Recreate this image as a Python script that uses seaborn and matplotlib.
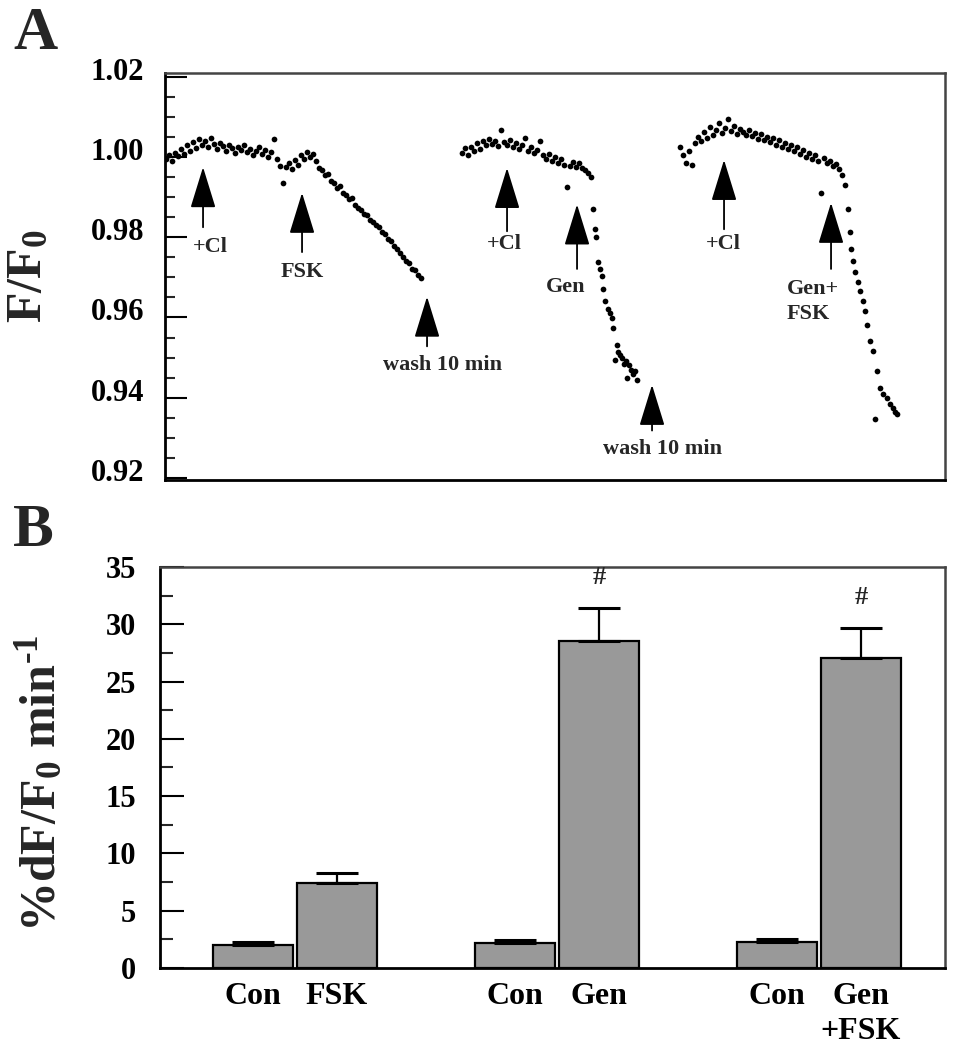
import numpy as np
import pandas as pd
import matplotlib
matplotlib.use("Agg")
import matplotlib.pyplot as plt
import matplotlib.transforms as mtransforms
from matplotlib.ticker import MultipleLocator, FormatStrFormatter
import seaborn as sns

sns.set_theme(style="white")
plt.rcParams['font.family'] = ['Liberation Serif', 'DejaVu Serif']
plt.rcParams['font.weight'] = 'bold'
plt.rcParams['axes.labelweight'] = 'bold'
plt.rcParams['mathtext.fontset'] = 'custom'
plt.rcParams['mathtext.rm'] = 'Liberation Serif:bold'
plt.rcParams['mathtext.it'] = 'Liberation Serif:bold'
plt.rcParams['mathtext.bf'] = 'Liberation Serif:bold'

# --- Panel A: F/F0 traces (time in s, sampled every 3 s on the plateaus) ---
trace1_t = np.arange(1, 257, 3)
trace1_f = [0.9995, 1.0005, 0.9990, 1.0010, 1.0002, 1.0020, 1.0008, 1.0030, 1.0015, 1.0038,
            1.0022, 1.0045, 1.0030, 1.0040, 1.0025, 1.0048, 1.0032, 1.0020, 1.0035, 1.0028,
            1.0015, 1.0030, 1.0022, 1.0010, 1.0025, 1.0018, 1.0030, 1.0012, 1.0020, 1.0005,
            1.0015, 1.0025, 1.0008, 1.0018, 1.0000, 1.0012, 1.0045, 0.9995, 0.9978, 0.9935,
            0.9975, 0.9985, 0.9970, 0.9992, 0.9980, 1.0005, 0.9995, 1.0012, 1.0000, 1.0008,
            0.9990, 0.9972, 0.9968, 0.9955, 0.9958, 0.9940, 0.9935, 0.9922, 0.9928, 0.9910,
            0.9905, 0.9895, 0.9898, 0.9880, 0.9872, 0.9868, 0.9858, 0.9855, 0.9842, 0.9838,
            0.9830, 0.9825, 0.9812, 0.9808, 0.9795, 0.9790, 0.9778, 0.9770, 0.9760, 0.9752,
            0.9740, 0.9735, 0.9722, 0.9718, 0.9705, 0.9698]

trace2_plateau_t = np.arange(297, 427, 3)
trace2_plateau_f = [1.0010, 1.0022, 1.0005, 1.0025, 1.0015, 1.0035, 1.0020, 1.0040, 1.0030, 1.0045,
                    1.0032, 1.0040, 1.0028, 1.0068, 1.0038, 1.0030, 1.0042, 1.0025, 1.0035, 1.0020,
                    1.0030, 1.0048, 1.0015, 1.0025, 1.0010, 1.0018, 1.0040, 1.0005, 0.9995, 1.0008,
                    0.9990, 1.0000, 0.9985, 0.9995, 0.9980, 0.9925, 0.9978, 0.9988, 0.9975, 0.9985,
                    0.9972, 0.9968, 0.9960, 0.9950]
trace2_drop_t = [428, 430, 431, 433, 435, 437, 438, 440, 443, 445, 447, 448, 450,
                 452, 453, 455, 457, 459, 461, 462, 464, 466, 468, 470, 472]
trace2_drop_f = [0.9870, 0.9820, 0.9800, 0.9738, 0.9720, 0.9704, 0.9672, 0.9642, 0.9622,
                 0.9610, 0.9598, 0.9573, 0.9494, 0.9531, 0.9515, 0.9506, 0.9498, 0.9485,
                 0.9491, 0.9450, 0.9481, 0.9470, 0.9460, 0.9467, 0.9444]

trace3_plateau_t = np.arange(515, 681, 3)
trace3_plateau_f = [1.0025, 1.0005, 0.9985, 1.0015, 0.9980, 1.0035, 1.0050, 1.0040, 1.0062, 1.0048,
                    1.0074, 1.0055, 1.0068, 1.0084, 1.0060, 1.0072, 1.0096, 1.0065, 1.0078, 1.0058,
                    1.0070, 1.0062, 1.0055, 1.0068, 1.0052, 1.0060, 1.0045, 1.0058, 1.0042, 1.0050,
                    1.0038, 1.0048, 1.0030, 1.0042, 1.0025, 1.0035, 1.0020, 1.0030, 1.0015, 1.0025,
                    1.0008, 1.0018, 1.0000, 1.0010, 0.9995, 1.0005, 0.9990, 0.9910, 0.9998, 0.9985,
                    0.9990, 0.9978, 0.9982, 0.9970, 0.9955, 0.9930]
trace3_drop_t = [683, 685, 686, 688, 690, 693, 695, 698, 700, 702, 705, 708, 710,
                 712, 715, 718, 722, 725, 728, 730, 732]
trace3_drop_f = [0.9870, 0.9812, 0.9770, 0.9740, 0.9714, 0.9689, 0.9667, 0.9642, 0.9617,
                 0.9580, 0.9541, 0.9516, 0.9346, 0.9467, 0.9425, 0.9410, 0.9400, 0.9385,
                 0.9375, 0.9365, 0.9358]

# arrow markers
arrow_labels = ["+Cl", "FSK", "wash 10 min", "+Cl", "Gen", "wash 10 min", "+Cl", "Gen+\nFSK"]
arrow_t = [38, 137, 262, 342, 412, 487, 559, 666]
arrow_tip = [0.9975, 0.9911, 0.9652, 0.9973, 0.9882, 0.9432, 0.9993, 0.9886]
arrow_tail = [0.9825, 0.9763, 0.9528, 0.9815, 0.9721, 0.9318, 0.9820, 0.9721]
label_t = [45, 137, 277, 339, 401, 497, 558, 648]
label_f = [0.9775, 0.9714, 0.9482, 0.9783, 0.9677, 0.9272, 0.9783, 0.9640]

# --- Panel B: rates ---
groups = ["FSK", "Gen", "Gen+FSK"]
conditions = ["Con", "Treated"]
con_mean = [2.05, 2.2, 2.3]
con_sem = [0.25, 0.25, 0.2]
trt_mean = [7.45, 28.55, 27.1]
trt_sem = [0.8, 2.9, 2.6]
bar_labels = ["Con", "FSK", "Con", "Gen", "Con", "Gen\n+FSK"]
significant = [False, False, False, True, False, True]

fig = plt.figure(figsize=(9.54, 10.5), dpi=100)
axA = fig.add_axes([0.173, 0.543, 0.8176, 0.3876])
axB = fig.add_axes([0.1677, 0.0781, 0.8229, 0.3819])

# Panel A
traces = [(trace1_t, trace1_f),
          (np.concatenate([trace2_plateau_t, trace2_drop_t]), trace2_plateau_f + trace2_drop_f),
          (np.concatenate([trace3_plateau_t, trace3_drop_t]), trace3_plateau_f + trace3_drop_f)]
for t, f in traces:
    sns.scatterplot(x=t, y=f, ax=axA, color="black", s=17, marker="o", linewidth=0)

for i in range(len(arrow_t)):
    axA.annotate("", xy=(arrow_t[i], arrow_tip[i]), xytext=(arrow_t[i], arrow_tail[i]),
                 arrowprops=dict(arrowstyle="-|>,head_length=0.65,head_width=0.2",
                                 mutation_scale=40, lw=1.3, color="black",
                                 shrinkA=0, shrinkB=0))
    axA.text(label_t[i], label_f[i], arrow_labels[i], ha="center", va="center",
             fontsize=16, multialignment="left", linespacing=1.3)

axA.set_xlim(0, 780)
axA.set_ylim(0.9195, 1.021)
axA.set_xticks([])
axA.yaxis.set_major_locator(MultipleLocator(0.02))
axA.yaxis.set_minor_locator(MultipleLocator(0.005))
axA.yaxis.set_major_formatter(FormatStrFormatter('%.2f'))
axA.tick_params(axis='y', which='major', direction='in', length=16, width=1.5,
                pad=15, labelsize=22, left=True, colors="black")
axA.tick_params(axis='y', which='minor', direction='in', length=7, width=1.5, left=True)
axA.set_ylabel("F/F$_0$", fontsize=36, fontweight="bold", va="center")
axA.yaxis.set_label_coords(-0.174, 0.50)

# Panel B
df = pd.DataFrame({
    "group": [g for g in groups for _ in conditions],
    "cond": conditions * len(groups),
    "rate": [v for pair in zip(con_mean, trt_mean) for v in pair],
})
sns.barplot(data=df, x="group", y="rate", hue="cond", palette=["#999999", "#999999"],
            width=0.64, gap=0.05, dodge=True, errorbar=None, saturation=1,
            edgecolor="black", linewidth=1.6, legend=False, ax=axB)

bars = sorted(axB.patches, key=lambda p: p.get_x())
centers = [p.get_x() + p.get_width() / 2 for p in bars]
heights = [p.get_height() for p in bars]
sems = [v for pair in zip(con_sem, trt_sem) for v in pair]
axB.errorbar(centers, heights, yerr=[np.zeros(len(sems)), sems], fmt="none",
             ecolor="black", elinewidth=1.6, capsize=15, capthick=2.2)
for c, h, s, sig in zip(centers, heights, sems, significant):
    if sig:
        axB.text(c, h + s + 1.6, "#", ha="center", va="bottom", fontsize=19)

axB.set_xlim(-0.515, 2.481)
axB.set_ylim(0, 35)
axB.yaxis.set_major_locator(MultipleLocator(5))
axB.yaxis.set_minor_locator(MultipleLocator(2.5))
axB.yaxis.set_major_formatter(FormatStrFormatter('%d'))
axB.tick_params(axis='y', which='major', direction='in', length=17, width=1.5,
                pad=17, labelsize=22, left=True, colors="black")
axB.tick_params(axis='y', which='minor', direction='in', length=9, width=1.5, left=True)
axB.set_xticks(centers, bar_labels)
axB.tick_params(axis='x', length=0, pad=10, labelsize=23, colors="black")
for lab in axB.get_xticklabels():
    lab.set_linespacing(1.3)
axB.set_xlabel("")
axB.set_ylabel(r"%dF/F$_0$ min$^{\text{-1}}$", fontsize=36, fontweight="bold", va="center")
axB.yaxis.set_label_coords(-0.152, 0.46)

for ax in (axA, axB):
    for side in ("left", "bottom"):
        ax.spines[side].set_color("black")
        ax.spines[side].set_linewidth(2.0)
    for side in ("top", "right"):
        ax.spines[side].set_color("#444444")
        ax.spines[side].set_linewidth(1.8)

# tick labels of panel A sit a little above their ticks in the original
shift = mtransforms.ScaledTranslation(0, 8 / 100, fig.dpi_scale_trans)
for lab in axA.get_yticklabels():
    lab.set_transform(lab.get_transform() + shift)

fig.text(36 / 954, 1 - 6 / 1050, "A", fontsize=44, ha="center", va="top")
fig.text(33 / 954, 1 - 503 / 1050, "B", fontsize=44, ha="center", va="top")

fig.savefig("out.png", dpi=100)
